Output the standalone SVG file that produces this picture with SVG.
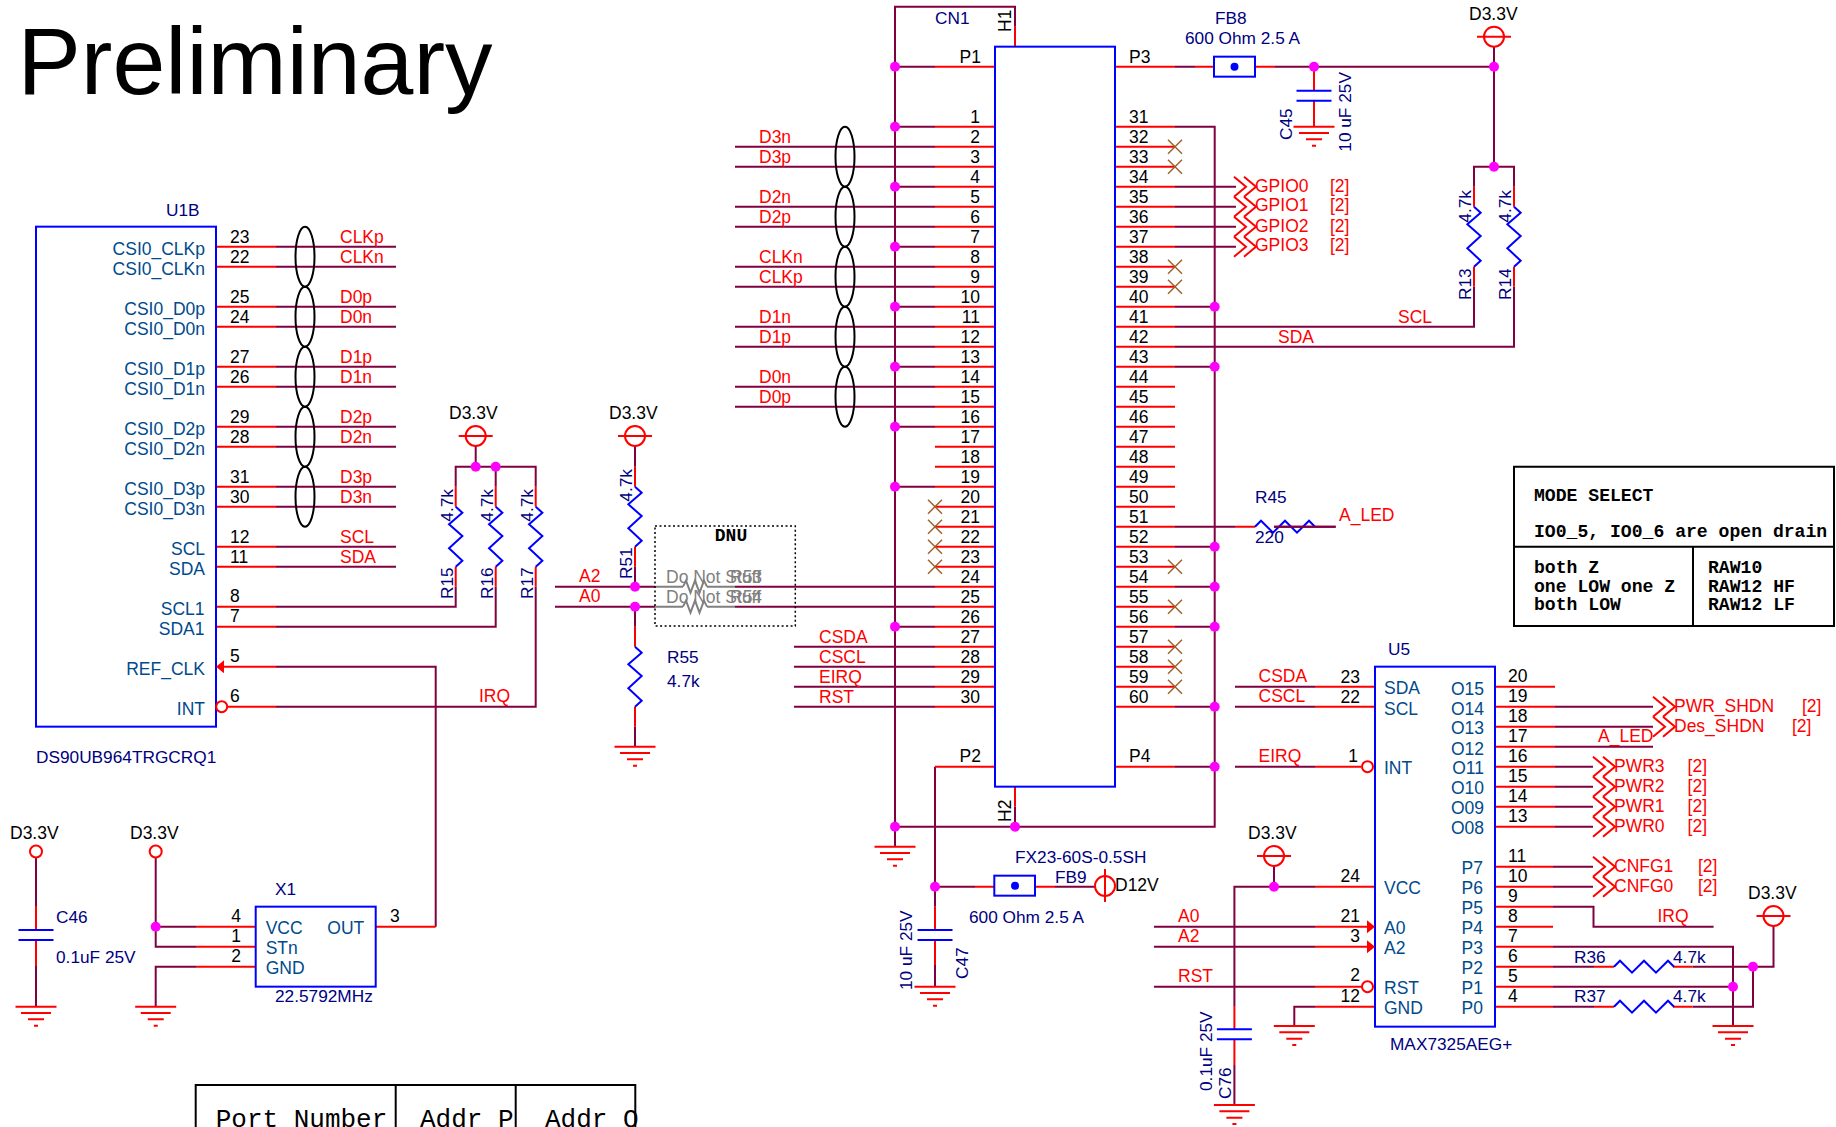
<svg xmlns="http://www.w3.org/2000/svg" xmlns:xlink="http://www.w3.org/1999/xlink" width="1836" height="1127" viewBox="0 0 1836 1127">
<style>
text{font-family:"Liberation Sans",Arial,sans-serif;font-size:17.5px;fill:#000}
.e{text-anchor:end}
.net text,text.net{fill:#f00}
.ref text,text.ref{fill:#000080;font-size:17.25px}
.pn text,text.pn{fill:#004a8c}
.mono text,text.mono{font-family:"Liberation Mono","Courier New",monospace}
.mode text{font-weight:bold;font-size:18.1px}
path,circle,rect,ellipse{fill:none}
.r{stroke:#f00;stroke-width:2}
.w{stroke:#800040;stroke-width:2}
.b{stroke:#00f;stroke-width:2}
.g{stroke:#808080;stroke-width:2}
.k{stroke:#000;stroke-width:2}
.j{fill:#f0f;stroke:none}
.x{stroke:#a0612a;stroke-width:1.5}
</style>
<defs>
<path id="gnd" class="r" d="M-20.5 0H20.5M-15 6.3H15M-8 12.7H8M-2 19H2"/>
<path id="zv" class="b" d="M0 0l6.67 6-13.33 11.67 13.33 11.67-13.33 12.33 13.33 12.33-6.67 6"/>
<path id="zh" class="b" d="M0 0l6-6 12 12 12-12 12 12 12-12 6 6"/>
<path id="zg" class="g" d="M0 0l3-6 4.5 12 4.5-12 4.5 12 4.5-12 3 6"/>
<path id="xm" class="x" d="M-7-7L7 7M-7 7L7-7"/>
<path id="chv" class="r" d="M0-10L12 0 0 10M10-10L22 0 10 10"/>
<g id="pwr"><circle class="r" r="10"/><path class="r" d="M-17 0H17"/></g>
<circle id="jn" class="j" r="5"/>
<g id="capv"><path class="b" d="M-17.5 0H17.5M-17.5 10H17.5"/></g>
<g id="pair"><ellipse class="k" rx="9.5" ry="30" cy="30"/><ellipse class="k" rx="9.5" ry="30" cy="90"/><ellipse class="k" rx="9.5" ry="30" cy="150"/><ellipse class="k" rx="9.5" ry="30" cy="210"/><ellipse class="k" rx="9.5" ry="30" cy="270"/></g>
</defs>
<rect width="1836" height="1127" style="fill:#fff"/>
<g id="connectors">
<path class="w" d="M276 246.67H396M276 266.67H396M276 306.67H396M276 326.67H396M276 366.67H396M276 386.67H396M276 426.67H396M276 446.67H396M276 486.67H396M276 506.67H396M276 546.67H396M276 566.67H396M276 606.67H455.7V586.67M276 626.67H495.7V586.67M276 666.67H435.7V926.67M276 706.67H535.7V586.67M475.7 446V466.67M455.7 486.67V466.67H535.7V486.67M495.7 466.67V486.67M635 446V466.67M635 566.67V586.67M635 606.67V626.67M635 726.67V746.67M555 586.67H655M555 606.67H655M735 586.67H935M735 606.67H935M794 646.67H935M794 666.67H935M794 686.67H935M794 706.67H935M735 146.67H935M735 166.67H935M735 206.67H935M735 226.67H935M735 266.67H935M735 286.67H935M735 326.67H935M735 346.67H935M735 386.67H935M735 406.67H935M895 66.67H935M895 126.67H935M895 186.67H935M895 246.67H935M895 306.67H935M895 366.67H935M895 426.67H935M895 486.67H935M895 626.67H935M1015 26.67V6.67H895V846.67M895 826.67H1214.7V126.67H1175M1015 806.67V826.67M1175 306.67H1214.7M1175 366.67H1214.7M1175 546.67H1214.7M1175 586.67H1214.7M1175 626.67H1214.7M1175 706.67H1214.7M1175 766.67H1214.7M1175 186.67H1236M1175 206.67H1236M1175 226.67H1236M1175 246.67H1236M1175 326.67H1474V286.67M1175 346.67H1514V286.67M1474 186.67V166.67H1514V186.67M1494 46.67V166.67M1175 66.67H1195M1275 66.67H1494M1175 526.67H1235M1274 526.67H1335.7M935 906.67V766.67M935 986.67V965M935 886.67H975M1055 886.67H1095M36 857.5V906M36 966V1006.67M155.7 857.5V946.67H196M155.7 926.67H196M155.7 1006.67V966.67H196M1235 686.67H1315M1235 706.67H1315M1235 766.67H1315M1154 926.67H1315M1154 946.67H1315M1154 986.67H1315M1234.4 1006V886.67H1315M1274 866V886.67M1234.4 1065V1105M1294.3 1026V1006.67H1315M1555 706.67H1653M1555 726.67H1653M1555 746.67H1653M1555 766.67H1593M1555 786.67H1593M1555 806.67H1593M1555 826.67H1593M1553 866.67H1593M1553 886.67H1593M1553 906.67H1593.5V926.67H1713.6M1553 946.67H1733V1026M1553 966.67H1594M1553 986.67H1733M1553 1006.67H1594M1692.5 966.67H1773.5V926M1692.5 1006.67H1753V966.67"/>
<path class="r" d="M216 246.67H276M216 266.67H276M216 306.67H276M216 326.67H276M216 366.67H276M216 386.67H276M216 426.67H276M216 446.67H276M216 486.67H276M216 506.67H276M216 546.67H276M216 566.67H276M216 606.67H276M216 626.67H276M220 666.67H276M227 706.67H276M375.7 926.67H435.7M196 926.67H255.7M196 946.67H255.7M196 966.67H255.7M455.7 486.67V506.67M455.7 566.67V586.67M495.7 486.67V506.67M495.7 566.67V586.67M535.7 486.67V506.67M535.7 566.67V586.67M635 466.67V486.67M635 546.67V566.67M635 626.67V646.67M635 706.67V726.67M935 66.67H995M935 766.67H995M1115 66.67H1175M1195 66.67H1214M1255 66.67H1275M1115 766.67H1175M1015 26.67V46.67M1015 786.67V806.67M935 126.67H995M935 146.67H995M935 166.67H995M935 186.67H995M935 206.67H995M935 226.67H995M935 246.67H995M935 266.67H995M935 286.67H995M935 306.67H995M935 326.67H995M935 346.67H995M935 366.67H995M935 386.67H995M935 406.67H995M935 426.67H995M935 446.67H995M935 466.67H995M935 486.67H995M935 506.67H995M935 526.67H995M935 546.67H995M935 566.67H995M935 586.67H995M935 606.67H995M935 626.67H995M935 646.67H995M935 666.67H995M935 686.67H995M935 706.67H995M1115 126.67H1175M1115 146.67H1175M1115 166.67H1175M1115 186.67H1175M1115 206.67H1175M1115 226.67H1175M1115 246.67H1175M1115 266.67H1175M1115 286.67H1175M1115 306.67H1175M1115 326.67H1175M1115 346.67H1175M1115 366.67H1175M1115 386.67H1175M1115 406.67H1175M1115 426.67H1175M1115 446.67H1175M1115 466.67H1175M1115 486.67H1175M1115 506.67H1175M1115 526.67H1175M1115 546.67H1175M1115 566.67H1175M1115 586.67H1175M1115 606.67H1175M1115 626.67H1175M1115 646.67H1175M1115 666.67H1175M1115 686.67H1175M1115 706.67H1175M1235 526.67H1255M1474 186.67V206.67M1474 266.67V286.67M1514 186.67V206.67M1514 266.67V286.67M1314 66.67V90.67M1314 100.67V126.67M935 906.67V930M935 940V965M975 886.67H994.3M1035 886.67H1055M36 906V930M36 940V966M1315 686.67H1375M1315 706.67H1375M1315 766.67H1361M1315 886.67H1375M1315 926.67H1370M1315 946.67H1370M1315 986.67H1362M1315 1006.67H1375M1234.4 1006V1029.3M1234.4 1039.3V1065M1495 686.67H1555M1495 706.67H1555M1495 726.67H1555M1495 746.67H1555M1495 766.67H1555M1495 786.67H1555M1495 806.67H1555M1495 826.67H1555M1495 866.67H1553M1495 886.67H1553M1495 906.67H1553M1495 926.67H1553M1495 946.67H1553M1495 966.67H1553M1495 986.67H1553M1495 1006.67H1553M1594 966.67H1614M1673 966.67H1692.5M1594 1006.67H1614M1673 1006.67H1692.5"/>
<path class="g" d="M655 586.67H683M707 586.67H735M655 606.67H683M707 606.67H735"/>
</g>
<g id="U1B">
<rect class="b" x="36" y="226.67" width="180" height="500"/>
<text class="ref" x="166" y="216">U1B</text>
<path d="M216 666.67l8-6.5v13z" style="fill:#f00"/>
<circle class="r" cx="221.7" cy="706.67" r="5.5"/>
<use xlink:href="#pair" href="#pair" x="305" y="226.67"/>
<g class="pn e"><text class="e" x="205" y="255">CSI0_CLKp</text><text class="e" x="205" y="275">CSI0_CLKn</text><text class="e" x="205" y="315">CSI0_D0p</text><text class="e" x="205" y="335">CSI0_D0n</text><text class="e" x="205" y="375">CSI0_D1p</text><text class="e" x="205" y="395">CSI0_D1n</text><text class="e" x="205" y="435">CSI0_D2p</text><text class="e" x="205" y="455">CSI0_D2n</text><text class="e" x="205" y="495">CSI0_D3p</text><text class="e" x="205" y="515">CSI0_D3n</text><text class="e" x="205" y="555">SCL</text><text class="e" x="205" y="575">SDA</text><text class="e" x="204.5" y="615">SCL1</text><text class="e" x="204.5" y="635">SDA1</text><text class="e" x="205" y="675">REF_CLK</text><text class="e" x="205" y="715">INT</text></g>
<g><text x="230" y="243">23</text><text x="230" y="263">22</text><text x="230" y="303">25</text><text x="230" y="323">24</text><text x="230" y="363">27</text><text x="230" y="383">26</text><text x="230" y="423">29</text><text x="230" y="443">28</text><text x="230" y="483">31</text><text x="230" y="503">30</text><text x="230" y="543">12</text><text x="230" y="563">11</text><text x="230" y="602">8</text><text x="230" y="622">7</text><text x="230" y="662">5</text><text x="230" y="702">6</text></g>
<g class="net"><text x="340" y="243">CLKp</text><text x="340" y="263">CLKn</text><text x="340" y="303">D0p</text><text x="340" y="323">D0n</text><text x="340" y="363">D1p</text><text x="340" y="383">D1n</text><text x="340" y="423">D2p</text><text x="340" y="443">D2n</text><text x="340" y="483">D3p</text><text x="340" y="503">D3n</text><text x="340" y="543">SCL</text><text x="340" y="563">SDA</text><text x="479" y="702">IRQ</text></g>
<text class="ref" x="36" y="763">DS90UB964TRGCRQ1</text>
</g>
<g id="Preliminary"><text x="17.5" y="94" style="font-size:95px">Preliminary</text></g>
<g id="R15R16R17">
<use xlink:href="#pwr" href="#pwr" x="475.7" y="436"/>
<text x="449" y="419">D3.3V</text>
<use xlink:href="#jn" href="#jn" x="475.7" y="466.67"/><use xlink:href="#jn" href="#jn" x="495.7" y="466.67"/>
<use xlink:href="#zv" href="#zv" x="455.7" y="506.67"/><use xlink:href="#zv" href="#zv" x="495.7" y="506.67"/><use xlink:href="#zv" href="#zv" x="535.7" y="506.67"/>
<g class="ref"><text transform="rotate(-90 453 521.7)" x="453" y="521.7">4.7k</text><text transform="rotate(-90 492.7 521.7)" x="492.7" y="521.7">4.7k</text><text transform="rotate(-90 532.7 521.7)" x="532.7" y="521.7">4.7k</text><text transform="rotate(-90 453 599)" x="453" y="599">R15</text><text transform="rotate(-90 492.7 599)" x="492.7" y="599">R16</text><text transform="rotate(-90 532.7 599)" x="532.7" y="599">R17</text></g>
</g>
<g id="R51R55">
<use xlink:href="#pwr" href="#pwr" x="635" y="436"/>
<text x="609" y="419">D3.3V</text>
<use xlink:href="#zv" href="#zv" x="635" y="486.67"/><use xlink:href="#zv" href="#zv" x="635" y="646.67"/>
<use xlink:href="#jn" href="#jn" x="635" y="586.67"/><use xlink:href="#jn" href="#jn" x="635" y="606.67"/>
<use xlink:href="#gnd" href="#gnd" x="635" y="746.67"/>
<g class="ref"><text transform="rotate(-90 631.7 501.7)" x="631.7" y="501.7">4.7k</text><text transform="rotate(-90 631.7 579)" x="631.7" y="579">R51</text><text x="667" y="663">R55</text><text x="667" y="686.7">4.7k</text></g>
<g class="net"><text x="579" y="581.7">A2</text><text x="579" y="601.7">A0</text><text x="819" y="643">CSDA</text><text x="819" y="663">CSCL</text><text x="819" y="683">EIRQ</text><text x="819" y="703">RST</text></g>
</g>
<g id="DNU">
<rect x="655" y="526" width="140.3" height="100" style="stroke:#000;stroke-width:1.5;stroke-dasharray:2 2.5"/>
<text class="mono" x="731" y="541" style="font-weight:bold;font-size:18px;text-anchor:middle">DNU</text>
<use xlink:href="#zg" href="#zg" x="683" y="586.67"/><use xlink:href="#zg" href="#zg" x="683" y="606.67"/>
<g><text x="666" y="583.3" style="fill:#808080">Do Not Stuff</text><text x="730" y="583.3" style="fill:#808080">R53</text><text x="666" y="603.3" style="fill:#808080">Do Not Stuff</text><text x="730" y="603.3" style="fill:#808080">R54</text></g>
</g>
<g id="CN1">
<rect class="b" x="995" y="46.67" width="120" height="740"/>
<text class="ref" x="935" y="24">CN1</text>
<text transform="rotate(-90 1011 32)" x="1011" y="32">H1</text>
<text transform="rotate(-90 1011 822)" x="1011" y="822">H2</text>
<text x="959.5" y="62.7">P1</text><text x="1129" y="62.7">P3</text><text x="959.5" y="762">P2</text><text x="1129" y="762">P4</text>
<use xlink:href="#pair" href="#pair" x="845" y="126.67"/>
<g class="net"><text x="759" y="143">D3n</text><text x="759" y="163">D3p</text><text x="759" y="203">D2n</text><text x="759" y="223">D2p</text><text x="759" y="263">CLKn</text><text x="759" y="283">CLKp</text><text x="759" y="323">D1n</text><text x="759" y="343">D1p</text><text x="759" y="383">D0n</text><text x="759" y="403">D0p</text></g>
<g><text class="e" x="980" y="123">1</text><text class="e" x="980" y="143">2</text><text class="e" x="980" y="163">3</text><text class="e" x="980" y="183">4</text><text class="e" x="980" y="203">5</text><text class="e" x="980" y="223">6</text><text class="e" x="980" y="243">7</text><text class="e" x="980" y="263">8</text><text class="e" x="980" y="283">9</text><text class="e" x="980" y="303">10</text><text class="e" x="980" y="323">11</text><text class="e" x="980" y="343">12</text><text class="e" x="980" y="363">13</text><text class="e" x="980" y="383">14</text><text class="e" x="980" y="403">15</text><text class="e" x="980" y="423">16</text><text class="e" x="980" y="443">17</text><text class="e" x="980" y="463">18</text><text class="e" x="980" y="483">19</text><text class="e" x="980" y="503">20</text><text class="e" x="980" y="523">21</text><text class="e" x="980" y="543">22</text><text class="e" x="980" y="563">23</text><text class="e" x="980" y="583">24</text><text class="e" x="980" y="603">25</text><text class="e" x="980" y="623">26</text><text class="e" x="980" y="643">27</text><text class="e" x="980" y="663">28</text><text class="e" x="980" y="683">29</text><text class="e" x="980" y="703">30</text></g>
<g><text x="1129" y="123">31</text><text x="1129" y="143">32</text><text x="1129" y="163">33</text><text x="1129" y="183">34</text><text x="1129" y="203">35</text><text x="1129" y="223">36</text><text x="1129" y="243">37</text><text x="1129" y="263">38</text><text x="1129" y="283">39</text><text x="1129" y="303">40</text><text x="1129" y="323">41</text><text x="1129" y="343">42</text><text x="1129" y="363">43</text><text x="1129" y="383">44</text><text x="1129" y="403">45</text><text x="1129" y="423">46</text><text x="1129" y="443">47</text><text x="1129" y="463">48</text><text x="1129" y="483">49</text><text x="1129" y="503">50</text><text x="1129" y="523">51</text><text x="1129" y="543">52</text><text x="1129" y="563">53</text><text x="1129" y="583">54</text><text x="1129" y="603">55</text><text x="1129" y="623">56</text><text x="1129" y="643">57</text><text x="1129" y="663">58</text><text x="1129" y="683">59</text><text x="1129" y="703">60</text></g>
<use xlink:href="#xm" href="#xm" x="935" y="506.67"/><use xlink:href="#xm" href="#xm" x="935" y="526.67"/><use xlink:href="#xm" href="#xm" x="935" y="546.67"/><use xlink:href="#xm" href="#xm" x="935" y="566.67"/>
<use xlink:href="#xm" href="#xm" x="1175" y="146.67"/><use xlink:href="#xm" href="#xm" x="1175" y="166.67"/><use xlink:href="#xm" href="#xm" x="1175" y="266.67"/><use xlink:href="#xm" href="#xm" x="1175" y="286.67"/><use xlink:href="#xm" href="#xm" x="1175" y="566.67"/><use xlink:href="#xm" href="#xm" x="1175" y="606.67"/><use xlink:href="#xm" href="#xm" x="1175" y="646.67"/><use xlink:href="#xm" href="#xm" x="1175" y="666.67"/><use xlink:href="#xm" href="#xm" x="1175" y="686.67"/>
<use xlink:href="#jn" href="#jn" x="895" y="66.67"/><use xlink:href="#jn" href="#jn" x="895" y="126.67"/><use xlink:href="#jn" href="#jn" x="895" y="186.67"/><use xlink:href="#jn" href="#jn" x="895" y="246.67"/><use xlink:href="#jn" href="#jn" x="895" y="306.67"/><use xlink:href="#jn" href="#jn" x="895" y="366.67"/><use xlink:href="#jn" href="#jn" x="895" y="426.67"/><use xlink:href="#jn" href="#jn" x="895" y="486.67"/><use xlink:href="#jn" href="#jn" x="895" y="626.67"/><use xlink:href="#jn" href="#jn" x="895" y="826.67"/><use xlink:href="#jn" href="#jn" x="1015" y="826.67"/>
<use xlink:href="#jn" href="#jn" x="1214.7" y="306.67"/><use xlink:href="#jn" href="#jn" x="1214.7" y="366.67"/><use xlink:href="#jn" href="#jn" x="1214.7" y="546.67"/><use xlink:href="#jn" href="#jn" x="1214.7" y="586.67"/><use xlink:href="#jn" href="#jn" x="1214.7" y="626.67"/><use xlink:href="#jn" href="#jn" x="1214.7" y="706.67"/><use xlink:href="#jn" href="#jn" x="1214.7" y="766.67"/>
<use xlink:href="#gnd" href="#gnd" x="895" y="846.67"/>
<g class="net"><use xlink:href="#chv" href="#chv" x="1234" y="186.67"/><use xlink:href="#chv" href="#chv" x="1234" y="206.67"/><use xlink:href="#chv" href="#chv" x="1234" y="226.67"/><use xlink:href="#chv" href="#chv" x="1234" y="246.67"/><text x="1255" y="192">GPIO0</text><text x="1255" y="211">GPIO1</text><text x="1255" y="232">GPIO2</text><text x="1255" y="251">GPIO3</text><text x="1330" y="192">[2]</text><text x="1330" y="211">[2]</text><text x="1330" y="232">[2]</text><text x="1330" y="251">[2]</text><text x="1398" y="323">SCL</text><text x="1278" y="343">SDA</text></g>
</g>
<g id="FB8">
<rect class="b" x="1214" y="56.67" width="41" height="20"/><circle cx="1234.5" cy="66.67" r="4" style="fill:#00f"/>
<g class="ref"><text x="1215" y="23.5">FB8</text><text x="1185" y="44">600 Ohm 2.5 A</text></g>
<use xlink:href="#jn" href="#jn" x="1314" y="66.67"/>
</g>
<g id="C45">
<use xlink:href="#capv" href="#capv" x="1314" y="90.67"/><use xlink:href="#gnd" href="#gnd" x="1314" y="126.67"/>
<g class="ref"><text transform="rotate(-90 1291.7 140)" x="1291.7" y="140">C45</text><text transform="rotate(-90 1351 151.7)" x="1351" y="151.7">10 uF 25V</text></g>
</g>
<g id="R13R14">
<use xlink:href="#pwr" href="#pwr" x="1494" y="36.67"/><text x="1469" y="20">D3.3V</text>
<use xlink:href="#jn" href="#jn" x="1494" y="66.67"/><use xlink:href="#jn" href="#jn" x="1494" y="166.67"/>
<use xlink:href="#zv" href="#zv" x="1474" y="206.67"/><use xlink:href="#zv" href="#zv" x="1514" y="206.67"/>
<g class="ref"><text transform="rotate(-90 1470.7 222.7)" x="1470.7" y="222.7">4.7k</text><text transform="rotate(-90 1510.7 222.7)" x="1510.7" y="222.7">4.7k</text><text transform="rotate(-90 1470.7 300)" x="1470.7" y="300">R13</text><text transform="rotate(-90 1510.7 300)" x="1510.7" y="300">R14</text></g>
</g>
<g id="R45">
<use xlink:href="#zh" href="#zh" x="1255" y="526.67"/>
<path class="w" d="M1274 526.67H1335.7"/>
<g class="ref"><text x="1255" y="503">R45</text><text x="1255" y="542.7">220</text></g>
<text class="net" x="1339" y="520.5">A_LED</text>
</g>
<g id="MODE" class="mono mode">
<path class="k" d="M1514 466.67H1834V626H1514ZM1514 546.67H1834M1693 546.67V626"/>
<text x="1534" y="501">MODE SELECT</text><text x="1534" y="537">IO0_5, IO0_6 are open drain</text><text x="1534" y="573">both Z</text><text x="1534" y="591.5">one LOW one Z</text><text x="1534" y="609.5">both LOW</text><text x="1708" y="573">RAW10</text><text x="1708" y="591.5">RAW12 HF</text><text x="1708" y="609.5">RAW12 LF</text>
</g>
<g id="U5">
<rect class="b" x="1375" y="666.67" width="120" height="360"/>
<path d="M1375 926.67l-8-6.5v13zM1375 946.67l-8-6.5v13z" style="fill:#f00"/>
<circle class="r" cx="1367.5" cy="766.67" r="5.5"/><circle class="r" cx="1367.5" cy="986.67" r="5.5"/>
<g class="ref"><text x="1388" y="655">U5</text><text x="1390" y="1050">MAX7325AEG+</text><text x="1574" y="962.7">R36</text><text x="1673" y="962.7">4.7k</text><text x="1574" y="1001.5">R37</text><text x="1673" y="1001.5">4.7k</text></g>
<g class="pn"><text x="1384" y="694">SDA</text><text x="1384" y="715">SCL</text><text x="1384" y="774">INT</text><text x="1384" y="894">VCC</text><text x="1384" y="934">A0</text><text x="1384" y="954">A2</text><text x="1384" y="994">RST</text><text x="1384" y="1014">GND</text><text class="e" x="1484" y="695">O15</text><text class="e" x="1484" y="715">O14</text><text class="e" x="1484" y="734">O13</text><text class="e" x="1484" y="755">O12</text><text class="e" x="1484" y="774">O11</text><text class="e" x="1484" y="794">O10</text><text class="e" x="1484" y="814">O09</text><text class="e" x="1484" y="834">O08</text><text class="e" x="1483" y="874">P7</text><text class="e" x="1483" y="894">P6</text><text class="e" x="1483" y="914">P5</text><text class="e" x="1483" y="934">P4</text><text class="e" x="1483" y="954">P3</text><text class="e" x="1483" y="974">P2</text><text class="e" x="1483" y="994">P1</text><text class="e" x="1483" y="1014">P0</text></g>
<g><text class="e" x="1360" y="682.7">23</text><text class="e" x="1360" y="702.7">22</text><text class="e" x="1358" y="762">1</text><text class="e" x="1360" y="881.7">24</text><text class="e" x="1360" y="921.7">21</text><text class="e" x="1360" y="941.7">3</text><text class="e" x="1360" y="980.7">2</text><text class="e" x="1360" y="1001.7">12</text><text x="1508" y="682">20</text><text x="1508" y="702">19</text><text x="1508" y="722">18</text><text x="1508" y="742">17</text><text x="1508" y="762">16</text><text x="1508" y="782">15</text><text x="1508" y="802">14</text><text x="1508" y="822">13</text><text x="1508" y="861.7">11</text><text x="1508" y="881.7">10</text><text x="1508" y="901.7">9</text><text x="1508" y="921.7">8</text><text x="1508" y="941.7">7</text><text x="1508" y="961.7">6</text><text x="1508" y="981.7">5</text><text x="1508" y="1001.7">4</text></g>
<use xlink:href="#zh" href="#zh" x="1614" y="966.67"/><use xlink:href="#zh" href="#zh" x="1614" y="1006.67"/>
<use xlink:href="#chv" href="#chv" x="1653" y="706.67"/><use xlink:href="#chv" href="#chv" x="1653" y="726.67"/>
<use xlink:href="#chv" href="#chv" x="1593" y="766.67"/><use xlink:href="#chv" href="#chv" x="1593" y="786.67"/><use xlink:href="#chv" href="#chv" x="1593" y="806.67"/><use xlink:href="#chv" href="#chv" x="1593" y="826.67"/><use xlink:href="#chv" href="#chv" x="1593" y="866.67"/><use xlink:href="#chv" href="#chv" x="1593" y="886.67"/>
<g class="net"><text x="1258.5" y="681.7">CSDA</text><text x="1258.5" y="701.7">CSCL</text><text x="1258.5" y="762">EIRQ</text><text x="1178" y="921.7">A0</text><text x="1178" y="941.7">A2</text><text x="1178" y="981.7">RST</text><text x="1674" y="711.7">PWR_SHDN</text><text x="1802" y="711.7">[2]</text><text x="1674" y="731.7">Des_SHDN</text><text x="1792" y="731.7">[2]</text><text x="1598" y="741.7">A_LED</text><text x="1614" y="771.7">PWR3</text><text x="1614" y="791.7">PWR2</text><text x="1614" y="811.7">PWR1</text><text x="1614" y="831.7">PWR0</text><text x="1687.6" y="771.7">[2]</text><text x="1687.6" y="791.7">[2]</text><text x="1687.6" y="811.7">[2]</text><text x="1687.6" y="831.7">[2]</text><text x="1614" y="871.7">CNFG1</text><text x="1614" y="891.7">CNFG0</text><text x="1698" y="871.7">[2]</text><text x="1698" y="891.7">[2]</text><text x="1657.4" y="921.7">IRQ</text></g>
<use xlink:href="#pwr" href="#pwr" x="1274" y="856"/><text x="1248" y="839">D3.3V</text><use xlink:href="#jn" href="#jn" x="1274" y="886.67"/>
<use xlink:href="#pwr" href="#pwr" x="1773.5" y="916"/><text x="1748" y="899">D3.3V</text>
<use xlink:href="#jn" href="#jn" x="1753" y="966.67"/><use xlink:href="#jn" href="#jn" x="1733" y="986.67"/>
<use xlink:href="#gnd" href="#gnd" x="1294.3" y="1026"/><use xlink:href="#gnd" href="#gnd" x="1733" y="1026"/>
</g>
<g id="C76">
<use xlink:href="#capv" href="#capv" x="1234.4" y="1029.3"/><use xlink:href="#gnd" href="#gnd" x="1234.4" y="1105"/>
<g class="ref"><text transform="rotate(-90 1212 1091)" x="1212" y="1091">0.1uF 25V</text><text transform="rotate(-90 1231 1099)" x="1231" y="1099">C76</text></g>
</g>
<g id="FB9">
<use xlink:href="#jn" href="#jn" x="935" y="886.67"/>
<rect class="b" x="994.3" y="875.67" width="40.7" height="20"/><circle cx="1015" cy="885.67" r="4" style="fill:#00f"/>
<circle class="r" cx="1105" cy="886" r="10"/><path class="r" d="M1105 869V902"/>
<text x="1115" y="891">D12V</text>
<g class="ref"><text x="1055" y="883">FB9</text><text x="1015" y="863">FX23-60S-0.5SH</text><text x="969" y="923">600 Ohm 2.5 A</text></g>
</g>
<g id="C47">
<use xlink:href="#capv" href="#capv" x="935" y="930"/><use xlink:href="#gnd" href="#gnd" x="935" y="986.67"/>
<g class="ref"><text transform="rotate(-90 912 990)" x="912" y="990">10 uF 25V</text><text transform="rotate(-90 968 979)" x="968" y="979">C47</text></g>
</g>
<g id="C46">
<circle class="r" cx="36" cy="851.5" r="6"/><text x="10" y="839">D3.3V</text>
<use xlink:href="#capv" href="#capv" x="36" y="930"/><use xlink:href="#gnd" href="#gnd" x="36" y="1006.67"/>
<g class="ref"><text x="56" y="923.4">C46</text><text x="56" y="963">0.1uF 25V</text></g>
</g>
<g id="X1">
<circle class="r" cx="155.7" cy="851.5" r="6"/><text x="130" y="839">D3.3V</text>
<use xlink:href="#jn" href="#jn" x="155.7" y="926.67"/><use xlink:href="#gnd" href="#gnd" x="155.7" y="1006.67"/>
<rect class="b" x="255.7" y="906.67" width="120" height="80"/>
<g class="ref"><text x="275" y="894.5">X1</text><text x="275" y="1002">22.5792MHz</text></g>
<g class="pn"><text x="265.7" y="934">VCC</text><text x="265.7" y="954">STn</text><text x="265.7" y="974">GND</text><text x="327.3" y="934">OUT</text></g>
<text class="e" x="241" y="922.3">4</text><text class="e" x="241" y="942.3">1</text><text class="e" x="241" y="962.3">2</text><text x="390" y="922.3">3</text>
</g>
<g id="PortTable" class="mono">
<path class="k" d="M195.7 1127V1085H635.3V1127M395.7 1085V1127M515.7 1085V1127"/>
<text x="215.7" y="1127" style="font-size:26px">Port Number</text><text x="420" y="1127" style="font-size:26px">Addr P</text><text x="545" y="1127" style="font-size:26px">Addr Q</text>
</g>
</svg>
